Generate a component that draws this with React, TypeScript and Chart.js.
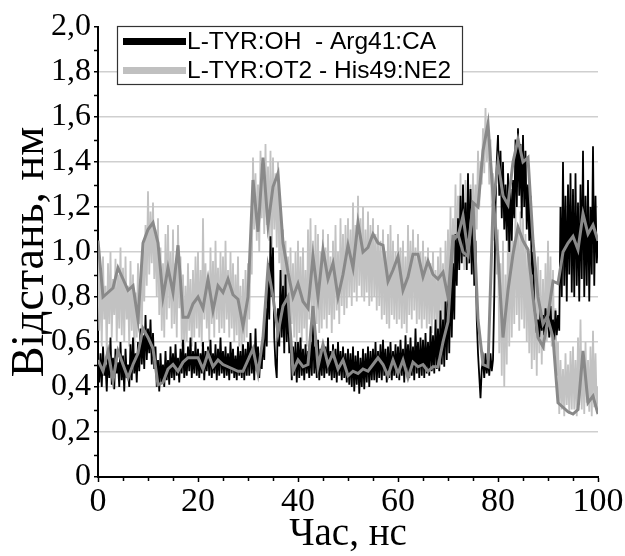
import React, { useEffect, useRef } from "react";
import { Chart, registerables } from "chart.js";

Chart.register(...registerables);

// ---- data -------------------------------------------------------------
const seriesNames = ["L-TYR:OH  - Arg41:CA", "L-TYR:OT2 - His49:NE2"];

// raw traces, every 0.25 ns from 0 to 100 ns
const rawStep = 0.25;
const rawArg41 = [
  0.52, 0.42, 0.55, 0.40, 0.58, 0.45, 0.50, 0.38, 0.56, 0.44, 0.62, 0.41, 0.53, 0.39, 0.57, 0.46, 0.51, 0.40, 0.60, 0.43,
  0.54, 0.38, 0.57, 0.44, 0.50, 0.40, 0.59, 0.43, 0.62, 0.46, 0.55, 0.42, 0.60, 0.47, 0.66, 0.50, 0.63, 0.48, 0.72, 0.52,
  0.66, 0.55, 0.70, 0.50, 0.64, 0.48, 0.58, 0.40, 0.52, 0.38, 0.55, 0.42, 0.50, 0.40, 0.56, 0.43, 0.52, 0.41, 0.58, 0.44,
  0.55, 0.43, 0.59, 0.45, 0.53, 0.42, 0.57, 0.46, 0.61, 0.44, 0.55, 0.45, 0.58, 0.47, 0.62, 0.44, 0.56, 0.46, 0.60, 0.45,
  0.57, 0.44, 0.55, 0.46, 0.60, 0.43, 0.56, 0.47, 0.58, 0.45, 0.61, 0.44, 0.55, 0.46, 0.59, 0.43, 0.57, 0.45, 0.62, 0.46,
  0.56, 0.44, 0.58, 0.45, 0.55, 0.43, 0.60, 0.46, 0.57, 0.44, 0.54, 0.43, 0.58, 0.45, 0.56, 0.44, 0.59, 0.43, 0.57, 0.45,
  0.60, 0.45, 0.64, 0.46, 0.57, 0.43, 0.66, 0.47, 0.58, 0.44, 0.55, 0.48, 0.62, 0.52, 0.75, 0.58, 0.95, 0.70, 1.07, 0.80,
  1.02, 0.62, 0.50, 0.44, 0.75, 0.58, 0.92, 0.62, 0.85, 0.55, 0.90, 0.60, 0.80, 0.55, 0.62, 0.43, 0.58, 0.45, 0.60, 0.42,
  0.60, 0.44, 0.62, 0.45, 0.57, 0.43, 0.59, 0.46, 0.56, 0.44, 0.60, 0.45, 0.70, 0.46, 0.58, 0.44, 0.61, 0.43, 0.57, 0.45,
  0.60, 0.44, 0.58, 0.46, 0.62, 0.45, 0.56, 0.43, 0.59, 0.44, 0.57, 0.42, 0.60, 0.45, 0.56, 0.43, 0.58, 0.44, 0.55, 0.42,
  0.57, 0.41, 0.55, 0.40, 0.58, 0.38, 0.54, 0.41, 0.56, 0.37, 0.53, 0.40, 0.57, 0.39, 0.55, 0.42, 0.58, 0.40, 0.56, 0.43,
  0.57, 0.43, 0.60, 0.42, 0.56, 0.44, 0.59, 0.43, 0.61, 0.45, 0.57, 0.42, 0.58, 0.44, 0.60, 0.43, 0.56, 0.45, 0.59, 0.44,
  0.58, 0.43, 0.61, 0.45, 0.57, 0.42, 0.63, 0.46, 0.59, 0.44, 0.62, 0.45, 0.58, 0.43, 0.66, 0.46, 0.60, 0.44, 0.62, 0.45,
  0.61, 0.44, 0.64, 0.46, 0.60, 0.45, 0.67, 0.47, 0.63, 0.46, 0.70, 0.48, 0.66, 0.47, 0.74, 0.50, 0.70, 0.49, 0.78, 0.52,
  0.82, 0.55, 0.90, 0.62, 0.95, 0.70, 1.08, 0.85, 1.15, 0.92, 1.25, 0.95, 1.30, 0.98, 1.22, 0.92, 1.35, 0.95, 1.28, 0.90,
  1.20, 0.85, 1.05, 0.70, 0.55, 0.45, 0.35, 0.48, 0.52, 0.44, 0.55, 0.46, 0.53, 0.45, 0.55, 0.47, 0.52, 0.80, 1.20, 1.40,
  1.52, 1.25, 1.45, 1.15, 1.40, 1.10, 1.30, 1.05, 1.35, 1.00, 1.28, 1.05, 1.32, 1.15, 1.50, 1.20, 1.55, 1.25, 1.48, 1.15,
  1.52, 1.20, 1.45, 1.10, 1.30, 1.05, 1.25, 0.90, 1.00, 0.75, 0.72, 0.64, 0.70, 0.62, 0.74, 0.65, 0.72, 0.63, 0.75, 0.66,
  0.73, 0.62, 0.76, 0.64, 0.70, 0.61, 0.74, 0.63, 0.72, 0.65, 1.20, 0.80, 1.40, 0.85, 1.25, 0.78, 1.30, 0.90, 1.35, 0.82,
  1.28, 0.80, 1.35, 0.85, 1.22, 0.78, 1.30, 0.88, 1.45, 0.80, 1.25, 0.85, 1.32, 0.78, 1.20, 0.90, 1.47, 0.85, 1.25, 0.95,
  1.05,
];
const rawHis49 = [
  1.05, 0.65, 0.92, 0.58, 0.98, 0.70, 0.85, 0.55, 0.95, 0.68, 1.00, 0.62, 0.88, 0.72, 0.97, 0.60, 0.90, 0.66, 1.02, 0.63,
  0.93, 0.60, 0.98, 0.70, 0.85, 0.58, 0.96, 0.65, 0.90, 0.55, 0.82, 0.62, 0.95, 0.68, 0.88, 0.60, 1.05, 0.78, 1.12, 0.85,
  1.27, 0.90, 1.18, 0.95, 1.22, 0.88, 1.10, 0.80, 1.15, 0.72, 1.02, 0.65, 0.95, 0.62, 1.08, 0.70, 1.12, 0.75, 1.00, 0.66,
  1.10, 0.68, 0.95, 0.62, 1.12, 0.75, 0.98, 0.58, 0.90, 0.55, 0.85, 0.60, 0.95, 0.65, 0.88, 0.58, 0.92, 0.62, 0.98, 0.66,
  1.00, 0.62, 0.92, 0.58, 1.15, 0.70, 0.95, 0.66, 0.88, 0.60, 1.02, 0.68, 0.96, 0.62, 1.05, 0.70, 0.93, 0.64, 1.00, 0.66,
  0.98, 0.64, 1.05, 0.70, 0.92, 0.62, 1.00, 0.66, 0.95, 0.60, 0.90, 0.63, 0.98, 0.58, 0.85, 0.55, 0.88, 0.60, 0.92, 0.62,
  0.95, 0.70, 1.05, 0.90, 1.42, 1.10, 1.35, 1.05, 1.30, 1.00, 1.45, 1.15, 1.40, 1.08, 1.48, 1.12, 1.38, 1.05, 1.45, 1.00,
  1.42, 1.10, 1.35, 1.02, 1.40, 0.95, 1.20, 0.85, 1.10, 0.78, 1.05, 0.72, 0.98, 0.65, 1.02, 0.68, 0.95, 0.62, 1.00, 0.60,
  1.05, 0.64, 0.98, 0.60, 1.02, 0.66, 0.92, 0.58, 1.10, 0.70, 1.15, 0.72, 1.05, 0.66, 1.12, 0.68, 1.08, 0.64, 1.00, 0.66,
  1.10, 0.70, 1.02, 0.66, 1.08, 0.72, 0.98, 0.64, 1.05, 0.70, 1.12, 0.74, 1.00, 0.68, 1.15, 0.76, 1.08, 0.72, 1.12, 0.75,
  1.15, 0.80, 1.10, 0.76, 1.22, 0.82, 1.12, 0.78, 1.25, 0.85, 1.15, 0.80, 1.20, 0.78, 1.10, 0.82, 1.18, 0.76, 1.12, 0.78,
  1.15, 0.80, 1.08, 0.74, 1.12, 0.76, 1.05, 0.70, 1.10, 0.72, 1.00, 0.68, 1.08, 0.66, 1.12, 0.72, 1.05, 0.70, 1.00, 0.68,
  1.08, 0.70, 1.02, 0.66, 1.05, 0.68, 0.98, 0.64, 1.12, 0.72, 1.05, 0.70, 1.10, 0.74, 1.02, 0.68, 1.08, 0.70, 1.00, 0.66,
  1.05, 0.70, 0.98, 0.66, 1.02, 0.68, 0.95, 0.64, 1.00, 0.70, 0.92, 0.62, 0.98, 0.66, 1.02, 0.70, 0.95, 0.65, 1.05, 0.72,
  1.10, 0.78, 1.20, 0.85, 1.15, 0.88, 1.30, 0.92, 1.25, 0.95, 1.35, 0.98, 1.28, 0.92, 1.32, 1.00, 1.25, 0.95, 1.30, 1.02,
  1.35, 1.05, 1.30, 1.10, 1.45, 1.20, 1.40, 1.30, 1.55, 1.35, 1.64, 1.40, 1.58, 1.30, 1.50, 1.20, 1.35, 1.05, 1.20, 0.90,
  1.10, 0.55, 0.95, 0.45, 1.05, 0.40, 0.90, 0.50, 1.10, 0.58, 1.15, 0.62, 1.05, 0.68, 1.20, 0.72, 1.12, 0.65, 1.18, 0.70,
  1.15, 0.66, 1.08, 0.60, 1.02, 0.55, 0.95, 0.48, 1.00, 0.52, 0.90, 0.45, 0.98, 0.55, 0.92, 0.50, 0.88, 0.56, 0.95, 0.60,
  1.05, 0.62, 0.98, 0.58, 0.92, 0.55, 0.75, 0.45, 0.60, 0.28, 0.52, 0.30, 0.48, 0.27, 0.55, 0.32, 0.50, 0.28, 0.56, 0.30,
  0.58, 0.30, 0.52, 0.27, 0.62, 0.32, 0.70, 0.30, 0.55, 0.28, 0.60, 0.33, 0.52, 0.29, 0.58, 0.27, 0.65, 0.31, 0.55, 0.30,
  0.40,
];

// smoothed (running average) traces, every 1 ns
const smoothStep = 1;
const smoothArg41 = [
  0.52, 0.47, 0.56, 0.43, 0.56, 0.50, 0.44, 0.50, 0.55, 0.66,
  0.62, 0.57, 0.41, 0.42, 0.48, 0.50, 0.47, 0.51, 0.53, 0.53,
  0.53, 0.48, 0.55, 0.49, 0.52, 0.50, 0.49, 0.48, 0.47, 0.47,
  0.52, 0.57, 0.46, 0.62, 0.93, 0.80, 0.64, 0.76, 0.80, 0.47,
  0.52, 0.49, 0.50, 0.76, 0.49, 0.59, 0.50, 0.55, 0.48, 0.52,
  0.45, 0.47, 0.46, 0.48, 0.47, 0.50, 0.53, 0.50, 0.45, 0.52,
  0.46, 0.52, 0.44, 0.51, 0.49, 0.50, 0.47, 0.49, 0.49, 0.60,
  0.69, 1.05, 1.08, 1.00, 0.98, 1.22, 0.70, 0.50, 0.49, 1.20,
  1.40, 1.25, 1.21, 1.40, 1.50, 1.40, 1.42, 1.05, 0.80, 0.68,
  0.72, 0.87, 0.86, 1.00, 1.04, 1.07, 1.01, 1.17, 1.08, 1.12,
  1.05,
];
const smoothHis49 = [
  1.05, 0.80, 0.82, 0.84, 0.93, 0.88, 0.83, 0.85, 0.70, 1.04,
  1.10, 1.13, 1.04, 0.80, 0.93, 0.82, 1.03, 0.71, 0.71, 0.77,
  0.80, 0.75, 0.88, 0.74, 0.85, 0.82, 0.88, 0.81, 0.79, 0.67,
  0.80, 1.32, 1.09, 1.42, 1.12, 1.29, 1.35, 1.04, 0.91, 0.80,
  0.86, 0.78, 0.75, 0.98, 0.80, 1.01, 0.88, 0.95, 0.80, 0.90,
  1.03, 0.93, 1.13, 1.00, 1.02, 1.08, 1.04, 1.03, 0.87, 0.92,
  0.98, 0.83, 0.89, 0.99, 0.99, 0.89, 0.96, 0.90, 0.88, 0.91,
  0.80, 1.07, 1.07, 1.16, 1.00, 1.22, 1.20, 1.45, 1.57, 1.25,
  0.98, 0.62, 0.83, 0.99, 1.11, 1.05, 1.01, 0.80, 0.62, 0.58,
  0.70, 0.62, 0.33, 0.31, 0.29, 0.28, 0.30, 0.56, 0.33, 0.36,
  0.28,
];

const xTickValues = [0, 20, 40, 60, 80, 100];
const yTickValues = [0, 0.2, 0.4, 0.6, 0.8, 1.0, 1.2, 1.4, 1.6, 1.8, 2.0];
const xTitle = "Час, нс";
const yTitle = "Відстань, нм";

// ---- helpers ----------------------------------------------------------
const toPoints = (vals: number[], step: number) =>
  vals.map((v, i) => ({ x: i * step, y: v }));

const fmtY = (v: number) =>
  Math.abs(v) < 1e-9 ? "0" : v.toFixed(1).replace(".", ",");

const SERIF = '"Liberation Serif", "Times New Roman", serif';
const SANS = '"Liberation Sans", Arial, sans-serif';

const minorTicksPlugin = {
  id: "minorTicks",
  afterDraw(chart: any) {
    const { ctx } = chart;
    const xs = chart.scales.x;
    const ys = chart.scales.y;
    ctx.save();
    ctx.strokeStyle = "#000";
    ctx.lineWidth = 1.5;
    ctx.beginPath();
    for (let v = 0.1; v < 2; v += 0.2) {
      const py = Math.round(ys.getPixelForValue(v)) + 0.5;
      ctx.moveTo(xs.left - 4, py);
      ctx.lineTo(xs.left, py);
    }
    for (let v = 5; v < 100; v += 5) {
      if (v % 20 === 0) continue;
      const px = Math.round(xs.getPixelForValue(v)) + 0.5;
      ctx.moveTo(px, ys.bottom);
      ctx.lineTo(px, ys.bottom + 4);
    }
    ctx.stroke();
    ctx.restore();
  },
};

const boxLegendPlugin = {
  id: "boxLegend",
  afterDraw(chart: any) {
    const { ctx } = chart;
    const xs = chart.scales.x;
    const ys = chart.scales.y;
    const entries = chart.data.datasets.filter((d: any) => d.inLegend);
    const left = xs.left + 19;
    const top = ys.top - 1;
    const rowH = 29;
    const boxW = 345;
    const boxH = rowH * entries.length;
    ctx.save();
    ctx.fillStyle = "#fff";
    ctx.fillRect(left, top, boxW, boxH);
    ctx.strokeStyle = "#333";
    ctx.lineWidth = 1.2;
    ctx.strokeRect(left + 0.5, top + 0.5, boxW, boxH);
    ctx.font = `24.5px ${SANS}`;
    ctx.textBaseline = "middle";
    entries.forEach((d: any, i: number) => {
      const cy = top + rowH * i + rowH / 2 + 1;
      ctx.strokeStyle = d.legendColor;
      ctx.lineWidth = 7;
      ctx.beginPath();
      ctx.moveTo(left + 6, cy);
      ctx.lineTo(left + 69, cy);
      ctx.stroke();
      ctx.fillStyle = "#000";
      ctx.fillText(d.label, left + 70, cy + 1);
    });
    ctx.restore();
  },
};

export default function App() {
  const canvasRef = useRef<HTMLCanvasElement | null>(null);

  useEffect(() => {
    if (!canvasRef.current) return;
    const chart = new Chart(canvasRef.current, {
      type: "line",
      data: {
        datasets: [
          {
            label: "smooth " + seriesNames[0],
            data: toPoints(smoothArg41, smoothStep),
            borderColor: "#898989",
            borderWidth: 3,
            pointRadius: 0,
            tension: 0,
          },
          {
            label: "smooth " + seriesNames[1],
            data: toPoints(smoothHis49, smoothStep),
            borderColor: "#898989",
            borderWidth: 3,
            pointRadius: 0,
            tension: 0,
          },
          {
            label: seriesNames[0],
            inLegend: true,
            legendColor: "#000000",
            data: toPoints(rawArg41, rawStep),
            borderColor: "#000000",
            borderWidth: 1.8,
            pointRadius: 0,
            tension: 0,
          },
          {
            label: seriesNames[1],
            inLegend: true,
            legendColor: "#c0c0c0",
            data: toPoints(rawHis49, rawStep),
            borderColor: "#c2c2c2",
            borderWidth: 1.8,
            pointRadius: 0,
            tension: 0,
          },
        ] as any,
      },
      options: {
        animation: false,
        responsive: false,
        layout: { padding: { top: 27, right: 27, left: 0, bottom: 0 } },
        plugins: {
          legend: { display: false },
          tooltip: { enabled: false },
        },
        scales: {
          x: {
            type: "linear",
            min: 0,
            max: 100,
            afterBuildTicks(scale: any) {
              scale.ticks = xTickValues.map((v) => ({ value: v }));
            },
            afterFit(scale: any) {
              scale.height = 79;
            },
            ticks: {
              color: "#000",
              font: { family: SERIF, size: 34 },
              padding: 0,
              maxRotation: 0,
              callback: (v: any) => String(v),
            },
            grid: {
              drawOnChartArea: false,
              drawTicks: true,
              tickLength: 5,
              tickColor: "#000",
              tickWidth: 1.5,
            },
            border: { display: true, color: "#000", width: 2 },
            title: {
              display: true,
              text: xTitle,
              color: "#000",
              font: { family: SERIF, size: 39, lineHeight: 1 },
              padding: { top: 0, bottom: 2 },
            },
          },
          y: {
            type: "linear",
            min: 0,
            max: 2,
            afterBuildTicks(scale: any) {
              scale.ticks = yTickValues.map((v) => ({ value: v }));
            },
            afterFit(scale: any) {
              scale.width = 98;
            },
            ticks: {
              color: "#000",
              font: { family: SERIF, size: 32 },
              padding: 3,
              callback: (v: any) => fmtY(Number(v)),
            },
            grid: {
              color: (c: any) =>
                c.tick && (c.tick.value === 0 || c.tick.value >= 1.99)
                  ? "rgba(0,0,0,0)"
                  : "#cfcfcf",
              lineWidth: 1.5,
              drawTicks: true,
              tickLength: 4,
              tickColor: "#000",
              tickWidth: 1.5,
            },
            border: { display: true, color: "#000", width: 2 },
            title: {
              display: true,
              text: yTitle,
              color: "#000",
              font: { family: SERIF, size: 46 },
              padding: { top: 3, bottom: 0 },
            },
          },
        },
      } as any,
      plugins: [minorTicksPlugin, boxLegendPlugin],
    });
    return () => chart.destroy();
  }, []);

  return (
    <div style={{ position: "absolute", left: 0, top: 0, width: 625, height: 556, background: "#fff" }}>
      <canvas ref={canvasRef} width={625} height={556} />
    </div>
  );
}
